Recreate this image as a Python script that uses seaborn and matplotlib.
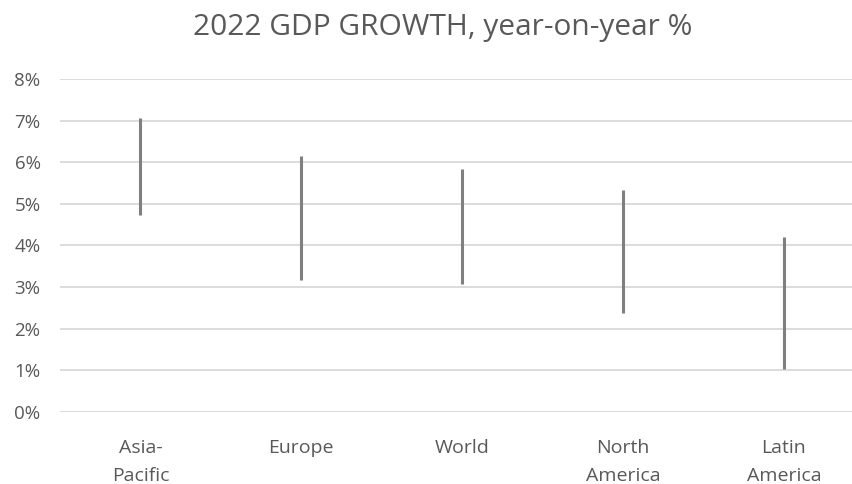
import matplotlib
matplotlib.use("Agg")
import matplotlib.pyplot as plt
import seaborn as sns
import pandas as pd
from matplotlib.ticker import FuncFormatter

regions = ["Asia-\nPacific", "Europe", "World", "North\nAmerica", "Latin\nAmerica"]
low = [4.72, 3.16, 3.06, 2.38, 1.02]
high = [7.07, 6.14, 5.84, 5.34, 4.2]
yticks = [0, 1, 2, 3, 4, 5, 6, 7, 8]

df = pd.DataFrame({
    "region": regions + regions,
    "value": low + high,
})
df["region"] = pd.Categorical(df["region"], categories=regions, ordered=True)

sns.set_theme(style="white")
plt.rcParams["font.family"] = ["Open Sans", "DejaVu Sans"]

fig = plt.figure(figsize=(8.53, 4.84), dpi=100)
ax = fig.add_axes([60 / 853, (484 - 411.7) / 484, 1 - 60 / 853, (411.7 - 79) / 484])

sns.lineplot(data=df, x="region", y="value", units="region", estimator=None,
             sort=False, color="#7f7f7f", linewidth=2.2, ax=ax, legend=False,
             solid_capstyle="butt")

ax.set_ylim(0, 8)
ax.set_yticks(yticks)
ax.yaxis.set_major_formatter(FuncFormatter(lambda v, p: f"{int(v)}%"))
ax.set_xlim(-0.5, 4 + (853 - 784) / 160.6)
ax.set_xticks(range(len(regions)))
ax.set_xticklabels(regions, linespacing=1.65)
ax.grid(axis="y", color="#d9d9d9", linewidth=1.3)
ax.set_axisbelow(True)
for s in ax.spines.values():
    s.set_visible(False)
ax.tick_params(axis="y", length=0, pad=14, labelsize=13.5, labelcolor="#595959")
ax.tick_params(axis="x", length=0, pad=20, labelsize=14, labelcolor="#595959")
ax.set_xlabel("")
ax.set_ylabel("")

fig.text(443 / 853, 1 - 27 / 484, "2022 GDP GROWTH, year-on-year %", ha="center",
         va="center", fontsize=21.5, color="#595959")

fig.savefig("out.png", dpi=100)
